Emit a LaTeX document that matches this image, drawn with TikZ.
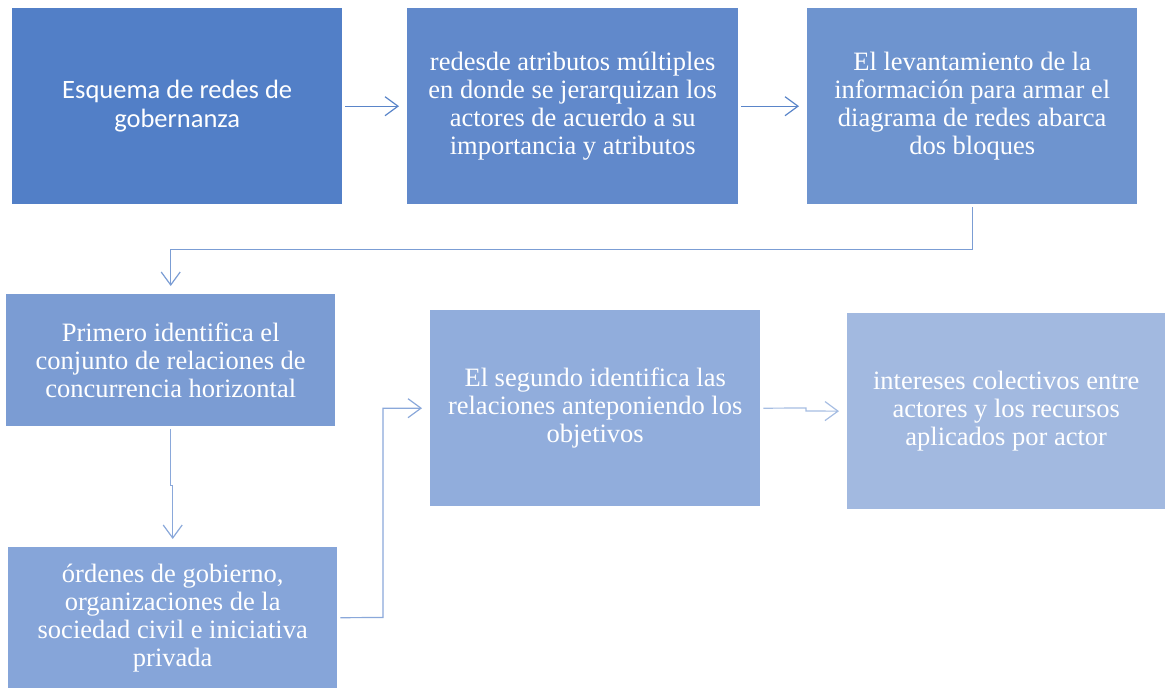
\documentclass[tikz,border=0pt]{standalone}
\usepackage{fontspec}
\setmainfont{Liberation Serif}
\newfontfamily\calibri{Carlito}
\usetikzlibrary{arrows.meta}
\definecolor{cA}{HTML}{527FC7}
\definecolor{cB}{HTML}{6189CB}
\definecolor{cC}{HTML}{6E94CF}
\definecolor{cD}{HTML}{7B9CD3}
\definecolor{cE}{HTML}{91ADDC}
\definecolor{cF}{HTML}{A2B9E0}
\definecolor{cG}{HTML}{86A5D9}
\definecolor{lA}{HTML}{5A85C9}
\definecolor{lB}{HTML}{8AA8DA}
\definecolor{lC}{HTML}{A6BDE2}
\tikzset{
  box/.style={anchor=north west, inner sep=0pt, text=white, align=center,
    font=\fontsize{26.5}{28}\selectfont},
  conn/.style={line width=1.2pt, -{Straight Barb[length=13pt,width=19pt,line width=1.2pt]},
    shorten <=3pt, shorten >=8pt},
}
\begin{document}
\begin{tikzpicture}[x=1pt,y=-1pt]
\useasboundingbox (0,0) rectangle (1165,688);
\node[box, minimum width=330pt, minimum height=196pt, fill=cA, font=\calibri\fontsize{26.5}{29}\selectfont] (b1) at (12,8) {Esquema de redes de\\gobernanza};
\node[box, minimum width=331pt, minimum height=196pt, fill=cB] (b2) at (407,8) {redesde atributos múltiples\\en donde se jerarquizan los\\actores de acuerdo a su\\importancia y atributos};
\node[box, minimum width=330pt, minimum height=196pt, fill=cC] (b3) at (807,8) {El levantamiento de la\\información para armar el\\diagrama de redes abarca\\dos bloques};
\node[box, minimum width=329pt, minimum height=132pt, fill=cD] (b4) at (6,294) {Primero identifica el\\conjunto de relaciones de\\concurrencia horizontal};
\node[box, minimum width=330pt, minimum height=196pt, fill=cE] (b5) at (430,310) {El segundo identifica las\\relaciones anteponiendo los\\objetivos};
\node[box, minimum width=318pt, minimum height=196pt, fill=cF] (b6) at (847,313) {intereses colectivos entre\\actores y los recursos\\aplicados por actor};
\node[box, minimum width=329pt, minimum height=141pt, fill=cG] (b7) at (8,547) {órdenes de gobierno,\\organizaciones de la\\sociedad civil e iniciativa\\privada};
\draw[conn, lA] (b1.east) -- (b2.west);
\draw[conn, lA] (b2.east) -- (b3.west);
\draw[conn, lA!80!white] (b3.south) -- ++(0,45) -| (b4.north);
\draw[conn, lB] (b4.south) -- ++(0,59) -- ++(2,0) -- (b7.north);
\draw[conn, lB] (b7.east) -- (383,617.5) |- (b5.west);
\draw[conn, lC] (b5.east) -- (806,408) -- (806,411) -- (b6.west);
\end{tikzpicture}
\end{document}
